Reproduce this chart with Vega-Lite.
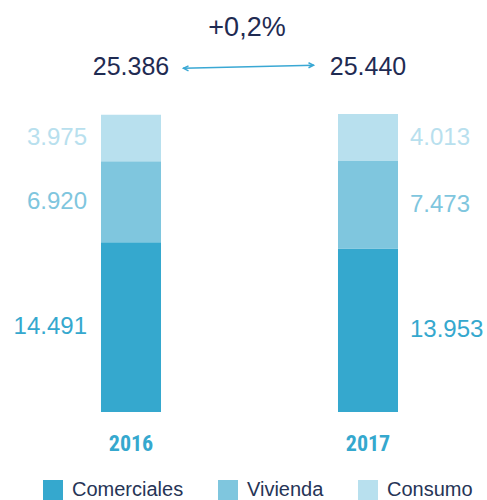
{
  "$schema": "https://vega.github.io/schema/vega-lite/v6.json",
  "width": 487,
  "height": 412,
  "autosize": {"type": "none"},
  "padding": {"left": 0, "top": 0, "right": 0, "bottom": 88},
  "background": "white",
  "config": {"view": {"stroke": null}, "font": "Liberation Sans"},
  "datasets": {
    "segments": [
      {"year": "2016", "type": "Comerciales", "value": 14491},
      {"year": "2016", "type": "Vivienda", "value": 6920},
      {"year": "2016", "type": "Consumo", "value": 3975},
      {"year": "2017", "type": "Comerciales", "value": 13953},
      {"year": "2017", "type": "Vivienda", "value": 7473},
      {"year": "2017", "type": "Consumo", "value": 4013}
    ],
    "totals": [
      {"year": "2016", "total": 25386},
      {"year": "2017", "total": 25440}
    ],
    "change": [{"label": "+0,2%"}]
  },
  "layer": [
    {
      "data": {"name": "segments"},
      "transform": [
        {"calculate": "indexof(['Comerciales','Vivienda','Consumo'], datum.type)", "as": "order"}
      ],
      "mark": {"type": "bar"},
      "encoding": {
        "x": {
          "field": "year", "type": "nominal",
          "scale": {"range": [12.5, 486.5], "paddingInner": 0.7468, "paddingOuter": 0.3734},
          "axis": {
            "title": null, "domain": false, "ticks": false, "labelAngle": 0,
            "labelFont": "Roboto Condensed, Liberation Sans Narrow, Liberation Sans",
            "labelFontWeight": "bold", "labelFontSize": 22, "labelColor": "#35a8ce",
            "labelPadding": 21
          }
        },
        "y": {
          "field": "value", "type": "quantitative", "stack": "zero",
          "scale": {"domain": [0, 35172], "nice": false},
          "axis": null
        },
        "color": {
          "field": "type", "type": "nominal",
          "scale": {"domain": ["Comerciales", "Vivienda", "Consumo"], "range": ["#35a8ce", "#7fc6de", "#b8e0ee"]},
          "legend": {
            "orient": "none", "legendX": 43, "legendY": 480, "direction": "horizontal",
            "title": null, "symbolType": "square", "symbolSize": 400, "symbolStrokeWidth": 0,
            "symbolOpacity": 1,
            "labelFontSize": 20, "labelColor": "#263456", "labelFont": "Liberation Sans",
            "columnPadding": 34, "labelOffset": 9, "padding": 0
          }
        },
        "order": {"field": "order", "type": "quantitative"}
      }
    },
    {
      "data": {"name": "segments"},
      "transform": [
        {"filter": "datum.year == '2016'"},
        {"calculate": "indexof(['Comerciales','Vivienda','Consumo'], datum.type)", "as": "order"},
        {"stack": "value", "groupby": ["year"], "sort": [{"field": "order"}], "as": ["v0", "v1"]},
        {"calculate": "(datum.v0 + datum.v1) / 2", "as": "mid"},
        {"calculate": "replace(format(datum.value, ','), ',', '.')", "as": "label"}
      ],
      "mark": {"type": "text", "align": "right", "baseline": "middle", "xOffset": -44, "fontSize": 24},
      "encoding": {
        "x": {"field": "year", "type": "nominal"},
        "y": {"field": "mid", "type": "quantitative"},
        "text": {"field": "label"},
        "color": {
          "condition": [
            {"test": "datum.type == 'Consumo'", "value": "#b8e0ee"},
            {"test": "datum.type == 'Vivienda'", "value": "#7fc6de"}
          ],
          "value": "#35a8ce"
        }
      }
    },
    {
      "data": {"name": "segments"},
      "transform": [
        {"filter": "datum.year == '2017'"},
        {"calculate": "indexof(['Comerciales','Vivienda','Consumo'], datum.type)", "as": "order"},
        {"stack": "value", "groupby": ["year"], "sort": [{"field": "order"}], "as": ["v0", "v1"]},
        {"calculate": "(datum.v0 + datum.v1) / 2", "as": "mid"},
        {"calculate": "replace(format(datum.value, ','), ',', '.')", "as": "label"}
      ],
      "mark": {"type": "text", "align": "left", "baseline": "middle", "xOffset": 42, "fontSize": 24},
      "encoding": {
        "x": {"field": "year", "type": "nominal"},
        "y": {"field": "mid", "type": "quantitative"},
        "text": {"field": "label"},
        "color": {
          "condition": [
            {"test": "datum.type == 'Consumo'", "value": "#b8e0ee"},
            {"test": "datum.type == 'Vivienda'", "value": "#7fc6de"}
          ],
          "value": "#35a8ce"
        }
      }
    },
    {
      "data": {"name": "totals"},
      "transform": [
        {"calculate": "replace(format(datum.total, ','), ',', '.')", "as": "label"}
      ],
      "mark": {"type": "text", "align": "center", "baseline": "middle", "fontSize": 25, "color": "#1f2b52"},
      "encoding": {
        "x": {"field": "year", "type": "nominal"},
        "y": {"datum": 29452},
        "text": {"field": "label"}
      }
    },
    {
      "data": {"values": [{}]},
      "mark": {"type": "rule", "xOffset": 52, "x2Offset": -54, "color": "#3aa8d4", "strokeWidth": 1.5},
      "encoding": {
        "x": {"datum": "2016"},
        "x2": {"datum": "2017"},
        "y": {"datum": 29340},
        "y2": {"datum": 29600}
      }
    },
    {
      "data": {"values": [{}]},
      "mark": {"type": "point", "shape": "M1,-1L-1,0L1,1", "filled": false, "size": 25, "strokeWidth": 1.5, "color": "#3aa8d4", "opacity": 1, "xOffset": 55},
      "encoding": {
        "x": {"datum": "2016"},
        "y": {"datum": 29340}
      }
    },
    {
      "data": {"values": [{}]},
      "mark": {"type": "point", "shape": "M-1,-1L1,0L-1,1", "filled": false, "size": 25, "strokeWidth": 1.5, "color": "#3aa8d4", "opacity": 1, "xOffset": -57},
      "encoding": {
        "x": {"datum": "2017"},
        "y": {"datum": 29600}
      }
    },
    {
      "data": {"name": "change"},
      "mark": {"type": "text", "align": "center", "baseline": "middle", "fontSize": 27, "color": "#1f2b52", "xOffset": 116},
      "encoding": {
        "x": {"datum": "2016"},
        "y": {"datum": 32782},
        "text": {"field": "label"}
      }
    }
  ]
}
